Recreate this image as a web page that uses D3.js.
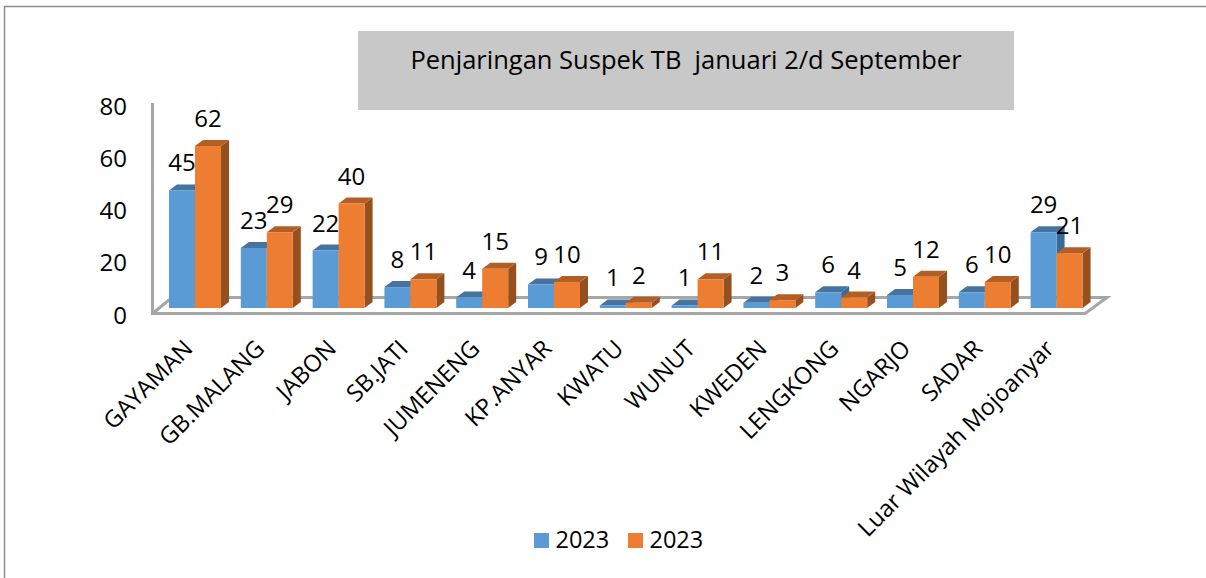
<!DOCTYPE html>
<html>
<head>
<meta charset="utf-8">
<script src="https://cdn.jsdelivr.net/npm/d3@7"></script>
<style>
  html, body { margin: 0; padding: 0; background: #fff; }
  svg { display: block; }
  text { font-family: "Open Sans", sans-serif; fill: #000; }
</style>
</head>
<body>
<div id="chart"></div>
<script>
const categories = ['GAYAMAN', 'GB.MALANG', 'JABON', 'SB.JATI', 'JUMENENG', 'KP.ANYAR', 'KWATU', 'WUNUT', 'KWEDEN', 'LENGKONG', 'NGARJO', 'SADAR', 'Luar Wilayah Mojoanyar'];
const seriesA = [45, 23, 22, 8, 4, 9, 1, 1, 2, 6, 5, 6, 29];
const seriesB = [62, 29, 40, 11, 15, 10, 2, 11, 3, 4, 12, 10, 21];
const yTicks = [0, 20, 40, 60, 80];
const legendLabels = ['2023', '2023'];
const titleText = 'Penjaringan Suspek TB  januari 2/d September';

const width = 1206, height = 578;
const depthX = 8, depthY = 6; // fake 3d offset of the bars

const colors = [
  { front: '#5b9bd5', top: '#44749f', side: '#3a6a96' },
  { front: '#ed7d31', top: '#b35e25', side: '#96501d' }
];

const svg = d3.select('#chart').append('svg')
  .attr('width', width)
  .attr('height', height);

// outer frame, only top and left show in the picture
svg.append('path')
  .attr('d', 'M4.5,578V6.5H1206')
  .attr('fill', 'none')
  .attr('stroke', '#8c8c8c')
  .attr('stroke-width', 1.5);

// title box
svg.append('rect')
  .attr('x', 358).attr('y', 31)
  .attr('width', 656).attr('height', 79)
  .attr('fill', '#c8c8c8');

svg.append('text')
  .attr('x', 686).attr('y', 69)
  .attr('text-anchor', 'middle')
  .attr('xml:space', 'preserve')
  .style('white-space', 'pre')
  .style('font-size', '25.5px')
  .text(titleText);

const x = d3.scaleBand()
  .domain(categories)
  .range([159.1, 1092.5])
  .paddingInner(0.276)
  .paddingOuter(0.138);

const x1 = d3.scaleBand()
  .domain([0, 1])
  .range([0, x.bandwidth()]);

const y = d3.scaleLinear()
  .domain([0, 80])
  .range([308, 99]);

// floor and wall lines
const floor = svg.append('g')
  .attr('fill', 'none')
  .attr('stroke', '#a6a6a6')
  .attr('stroke-width', 3);

floor.append('path').attr('d', 'M152.5,103V313.5H1085L1107,297.5H172L152.5,313.5');

// y axis, labels only
const yAxis = svg.append('g')
  .attr('transform', 'translate(136,7.5)')
  .call(d3.axisLeft(y).tickValues(yTicks).tickSize(0).tickPadding(9));
yAxis.select('.domain').remove();
yAxis.selectAll('text')
  .style('font-size', '24px')
  .style('font-family', '"Open Sans", sans-serif');

// bars
[seriesA, seriesB].forEach((values, s) => {
  const g = svg.append('g');
  const c = colors[s];
  categories.forEach((cat, i) => {
    const v = values[i];
    const x0 = x(cat) + x1(s);
    const w = x1.bandwidth();
    const yTop = y(v), yBase = y(0);
    g.append('path')
      .attr('fill', c.side)
      .attr('d', `M${x0 + w},${yTop}l${depthX},${-depthY}V${yBase - depthY}l${-depthX},${depthY}Z`);
    g.append('path')
      .attr('fill', c.top)
      .attr('d', `M${x0},${yTop}l${depthX},${-depthY}h${w}l${-depthX},${depthY}Z`);
    g.append('rect')
      .attr('x', x0).attr('y', yTop)
      .attr('width', w).attr('height', yBase - yTop)
      .attr('fill', c.front);
  });
});

// value labels
[seriesA, seriesB].forEach((values, s) => {
  svg.append('g').selectAll('text')
    .data(values)
    .join('text')
    .attr('x', (d, i) => x(categories[i]) + x1(s) + x1.bandwidth() / 2)
    .attr('y', d => y(d) - 19)
    .attr('text-anchor', 'middle')
    .style('font-size', '24px')
    .text(d => d);
});

// category labels
svg.append('g').selectAll('text')
  .data(categories)
  .join('text')
  .attr('text-anchor', 'end')
  .attr('transform', d => `translate(${x(d) + x.bandwidth() / 2 - 1},350) rotate(-45)`)
  .style('font-size', '23.6px')
  .text(d => d);

// legend
const legendX = [534, 628];
legendLabels.forEach((label, i) => {
  svg.append('rect')
    .attr('x', legendX[i]).attr('y', 533)
    .attr('width', 15).attr('height', 15)
    .attr('fill', colors[i].front);
  svg.append('text')
    .attr('x', legendX[i] + 21.5).attr('y', 548)
    .style('font-size', '23.5px')
    .text(label);
});
</script>
</body>
</html>
